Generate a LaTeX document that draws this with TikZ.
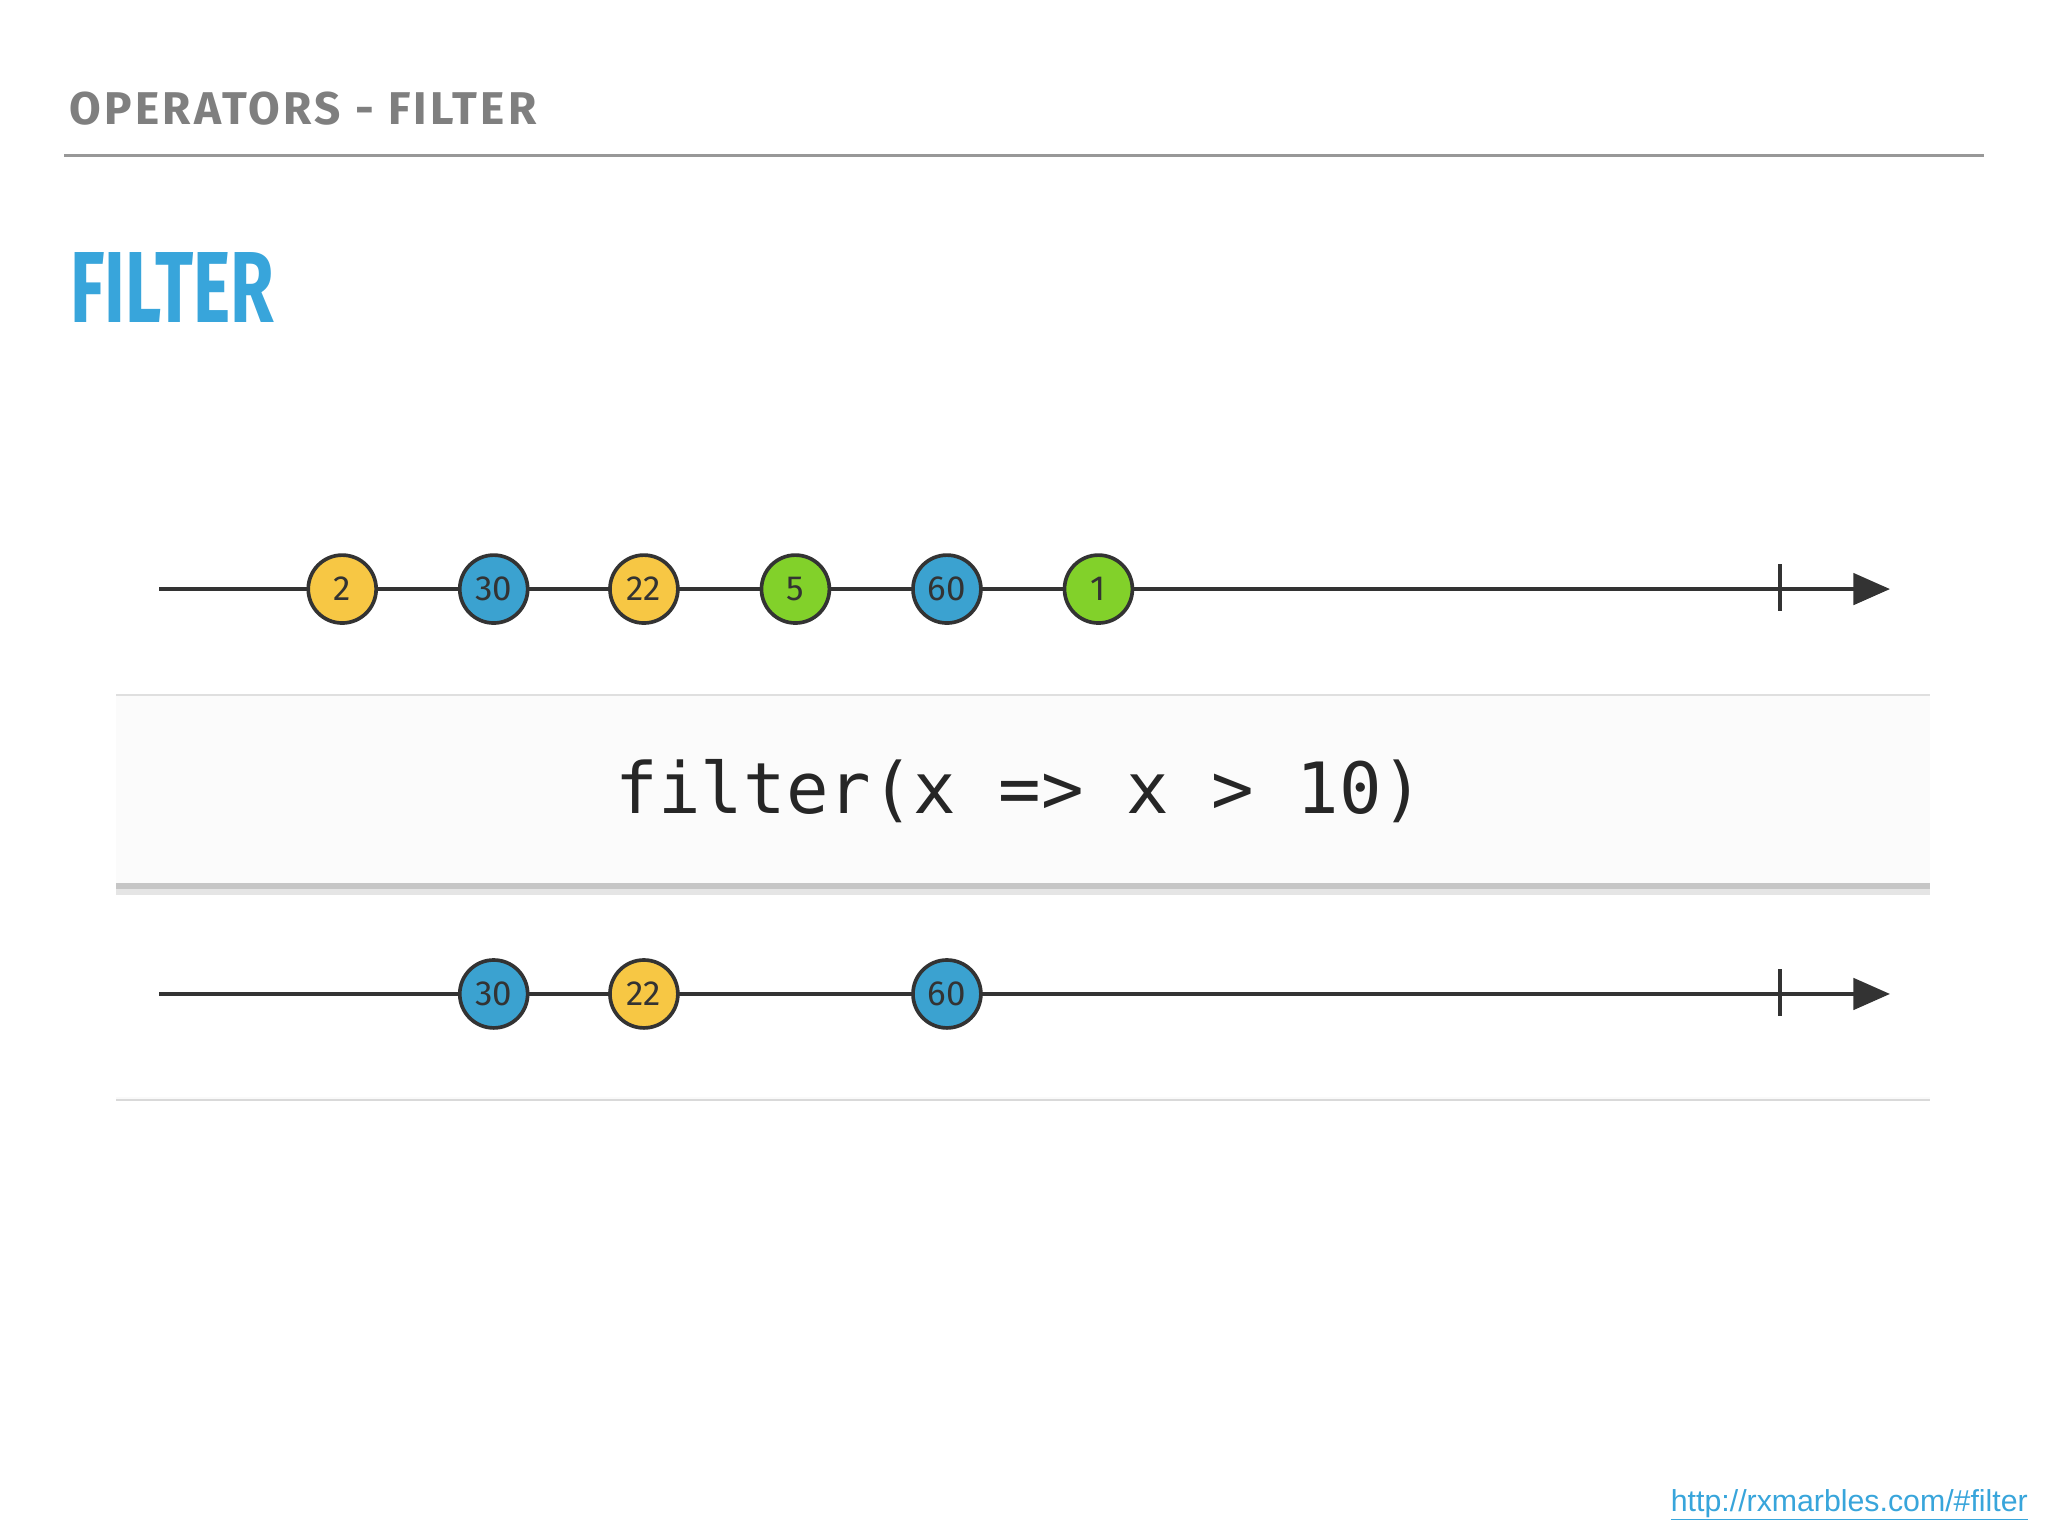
\documentclass[tikz,border=0pt]{standalone}
\usepackage{fontspec}
\setmainfont{Fira Sans}
\newfontfamily\codefont{DejaVu Sans Mono}
\newfontfamily\linkfont{Liberation Sans}
\usetikzlibrary{arrows.meta}
\definecolor{myyel}{HTML}{F7C744}
\definecolor{myblue}{HTML}{3BA2D0}
\definecolor{mygreen}{HTML}{82D12A}
\definecolor{tgray}{HTML}{7F7F7F}
\definecolor{fblue}{HTML}{38A5DB}
\definecolor{lineblk}{HTML}{333333}
\tikzset{
 marble/.style={circle,draw=lineblk,line width=4pt,minimum size=52*0.05cm,inner sep=0pt,font=\fontsize{38}{40}\selectfont\color{lineblk}},
 tl/.style={line width=4pt,draw=lineblk},
}
\begin{document}
\begin{tikzpicture}[x=0.05cm,y=-0.05cm]
\useasboundingbox[fill=white] (0,0) rectangle (1568,1176);
\node[anchor=west,text=tgray,font=\fontsize{50}{52}\selectfont\addfontfeature{LetterSpace=7}\bfseries] (title) at (51,83) {OPERATORS - FILTER};
\draw[tgray!80,line width=4pt] (49,119) -- (1519,119);
\node[anchor=west,text=fblue,font=\bfseries\fontsize{110}{112}\selectfont,xscale=0.7] (head) at (52,220) {FILTER};
% box
\fill[gray!3] (89,532) rectangle (1478,678);
\fill[gray!4] (89,678) rectangle (1478,842);
\fill[white] (89,684) rectangle (1478,840);
\draw[gray!25,line width=2pt] (89,532) -- (1478,532);
\fill[gray!45] (89,676) rectangle (1478,681);
\fill[gray!20] (89,681) rectangle (1478,685);
\draw[gray!30,line width=2pt] (89,842) -- (1478,842);
\node[font=\codefont\fontsize{77}{80}\selectfont,text=black!85] (code) at (781,606) {filter(x => x > 10)};
% top timeline
\coordinate (ts) at (122,451); \coordinate (te) at (1447,451);
\draw[tl,-{Triangle[length=28*0.05cm,width=24*0.05cm]}] (ts) -- (te);
\coordinate (tk1) at (1363,432); \coordinate (tk2) at (1363,468);
\draw[tl] (tk1) -- (tk2);
\node[marble,fill=myyel] (a1) at (262,451) {2};
\node[marble,fill=myblue] (a2) at (378,451) {30};
\node[marble,fill=myyel] (a3) at (493,451) {22};
\node[marble,fill=mygreen] (a4) at (609,451) {5};
\node[marble,fill=myblue] (a5) at (725,451) {60};
\node[marble,fill=mygreen] (a6) at (841,451) {1};
% bottom timeline
\coordinate (bs) at (122,761); \coordinate (be) at (1447,761);
\draw[tl,-{Triangle[length=28*0.05cm,width=24*0.05cm]}] (bs) -- (be);
\coordinate (bk1) at (1363,742); \coordinate (bk2) at (1363,778);
\draw[tl] (bk1) -- (bk2);
\node[marble,fill=myblue] (b2) at (378,761) {30};
\node[marble,fill=myyel] (b3) at (493,761) {22};
\node[marble,fill=myblue] (b5) at (725,761) {60};
\node[anchor=east,text=fblue,font=\linkfont\fontsize{33}{35}\selectfont] (link) at (1555,1152) {\underline{http://rxmarbles.com/\#filter}};
\end{tikzpicture}
\end{document}
